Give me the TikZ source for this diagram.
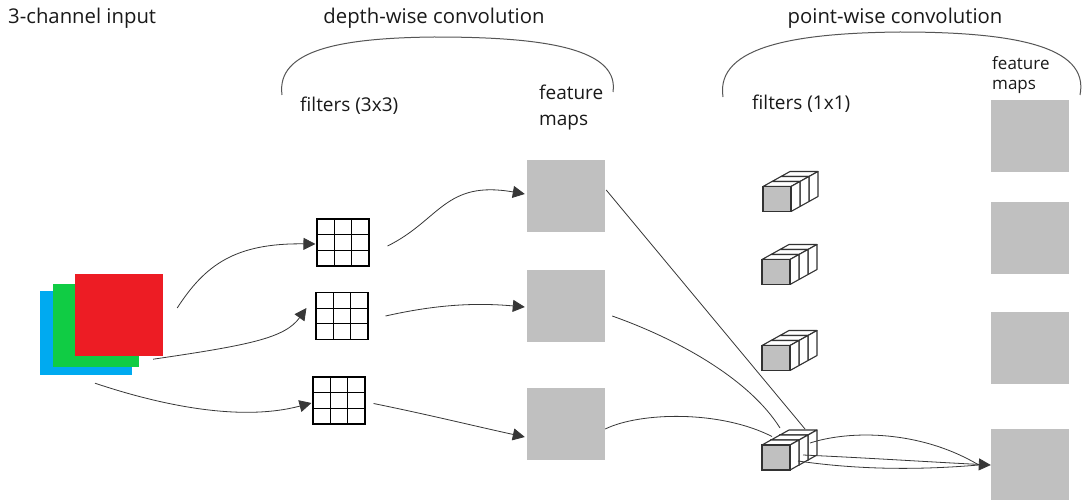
\documentclass[tikz,border=0pt]{standalone}
\usepackage{fontspec}
\setmainfont{Open Sans}
\usetikzlibrary{arrows.meta,calc}
\definecolor{fmgray}{RGB}{192,192,192}
\definecolor{inblue}{RGB}{0,170,240}
\definecolor{ingreen}{RGB}{16,204,68}
\definecolor{inred}{RGB}{237,28,36}
\definecolor{linegray}{RGB}{55,55,55}
\definecolor{bracegray}{RGB}{85,85,85}
\definecolor{cubeline}{RGB}{50,50,50}
\tikzset{
  lbl/.style={font=\fontsize{19}{26}\selectfont, inner sep=0pt, anchor=west, align=left, text=black!90},
  lblhead/.style={font=\fontsize{20.3}{26}\selectfont, inner sep=0pt, text=black!90},
  lblsmall/.style={font=\fontsize{17}{20}\selectfont, inner sep=0pt, anchor=west, align=left, text=black!90},
  fmap/.style={fill=fmgray, minimum width=78pt, minimum height=72pt, inner sep=0pt},
  gridbox/.style={draw=black, line width=1.1pt, fill=white, minimum width=52pt, minimum height=47pt, inner sep=0pt,
    path picture={
      \foreach \i in {1,2}{
        \draw[line width=1.1pt] ($(path picture bounding box.north west)!\i/3!(path picture bounding box.north east)$) -- ($(path picture bounding box.south west)!\i/3!(path picture bounding box.south east)$);
        \draw[line width=1.1pt] ($(path picture bounding box.north west)!\i/3!(path picture bounding box.south west)$) -- ($(path picture bounding box.north east)!\i/3!(path picture bounding box.south east)$);
      }}},
  conn/.style={draw=linegray, line width=0.8pt},
  arr/.style={conn, -{Triangle[length=12pt,width=12pt]}, shorten >=0pt},
  brace/.style={draw=bracegray, line width=1pt},
  cubeface/.style={draw=cubeline, line width=1.1pt, fill=white, line join=round},
  cubefront/.style={draw=cubeline, line width=1.1pt, fill=fmgray, minimum width=28pt, minimum height=25pt, inner sep=0pt},
  cube/.pic={
    \foreach \k in {2,1,0}{
      \pgfmathsetmacro{\ox}{9*\k}
      \pgfmathsetmacro{\oy}{-5*\k}
      \ifnum\k>0
        \path[cubeface] (-14+\ox,-12.5+\oy) rectangle (14+\ox,12.5+\oy);
      \fi
      \path[cubeface] (-14+\ox,-12.5+\oy) -- (-5+\ox,-17.5+\oy) -- (23+\ox,-17.5+\oy) -- (14+\ox,-12.5+\oy) -- cycle;
      \path[cubeface] (14+\ox,-12.5+\oy) -- (23+\ox,-17.5+\oy) -- (23+\ox,7.5+\oy) -- (14+\ox,12.5+\oy) -- cycle;
    }
    \node[cubefront] (-front) at (0,0) {};
    \coordinate (-in1) at (29,-28.5);
    \coordinate (-in2) at (4,-29.5);
    \coordinate (-in3) at (-4,-21);
    \coordinate (-o1) at (34,-14.5);
    \coordinate (-o2) at (27,-2.5);
    \coordinate (-o3) at (22,3.5);
  }
}
\begin{document}
\begin{tikzpicture}[x=1pt,y=-1pt]
\useasboundingbox[fill=white] (0,0) rectangle (1086,500);

% labels
\node[lblhead, anchor=west] (tin) at (8,18) {3-channel input};
\node[lblhead] (tdw) at (434,18) {depth-wise convolution};
\node[lbl] (tf3) at (300,106) {filters (3x3)};
\node[lbl] (tfm1) at (539,108) {feature\\maps};
\node[lblhead] (tpw) at (895,18) {point-wise convolution};
\node[lbl] (tf1) at (752,104) {filters (1x1)};
\node[lblsmall] (tfm2) at (992,75) {feature\\maps};

% braces
\draw[brace] (282,95) .. controls (276,50) and (340,38) .. (434,37) .. controls (530,37) and (620,45) .. (613,92);
\draw[brace] (723,97) .. controls (715,45) and (800,33) .. (900,32) .. controls (1010,32) and (1090,45) .. (1080,95);

% input
\node[fill=inblue, minimum width=92pt, minimum height=84pt, inner sep=0pt] (inb) at (86,333) {};
\node[fill=ingreen, minimum width=86pt, minimum height=83pt, inner sep=0pt] (ing) at (96,325.5) {};
\node[fill=inred, minimum width=88pt, minimum height=82pt, inner sep=0pt] (inr) at (119,315) {};

% filters 3x3
\node[gridbox] (g1) at (343,242.5) {};
\node[gridbox] (g2) at (342,316) {};
\node[gridbox] (g3) at (339,400.5) {};

% feature maps
\node[fmap] (f1) at (566,196) {};
\node[fmap] (f2) at (566,306) {};
\node[fmap] (f3) at (566,423.5) {};

% 1x1 filters
\pic (c1) at (777,199) {cube};
\pic (c2) at (776,272) {cube};
\pic (c3) at (776,358) {cube};
\pic (c4) at (776,457.5) {cube};

% output feature maps
\node[fmap] (r1) at (1030,136) {};
\node[fmap] (r2) at (1030,238) {};
\node[fmap] (r3) at (1030,348) {};
\node[fmap] (r4) at (1030,465) {};
\coordinate (jn) at ($(r4.west)+(-12,0)$);

% input -> filters
\draw[arr] ($(inr.east)+(14,-7)$) .. controls (205,265) and (235,243) .. ($(g1.west)+(-1,1.5)$);
\draw[arr] ($(inr.south east)+(-10,3)$) .. controls (250,345) and (285,338) .. ($(g2.west)+(-9,-8)$);
\draw[arr] ($(inb.south)+(9,8)$) .. controls (160,405) and (240,422) .. ($(g3.west)+(-1,2.5)$);

% filters -> feature maps
\draw[arr] ($(g1.east)+(18,3.5)$) .. controls (440,220) and (445,180) .. ($(f1.west)+(-2,-2)$);
\draw[arr] ($(g2.east)+(17,0)$) .. controls (430,306) and (470,302) .. ($(f2.west)+(-2,1)$);
\draw[arr] ($(g3.east)+(8,3)$) .. controls (430,415) and (470,425) .. ($(f3.west)+(-2,13.5)$);

% feature maps -> 1x1 filter
\draw[conn] ($(f1.east)+(1,-6)$) -- (c4-in1);
\draw[conn] ($(f2.east)+(7,10)$) .. controls (680,340) and (750,380) .. (c4-in2);
\draw[conn] ($(f3.east)+(0,5.5)$) .. controls (640,412) and (720,410) .. (c4-in3);

% 1x1 filter -> output
\draw[conn] (c4-o1) .. controls (850,430) and (920,430) .. (jn);
\draw[arr] (c4-o2) .. controls (870,458) and (930,462) .. (r4.west);
\draw[conn] (c4-o3) .. controls (860,470) and (920,470) .. (jn);
\end{tikzpicture}
\end{document}
